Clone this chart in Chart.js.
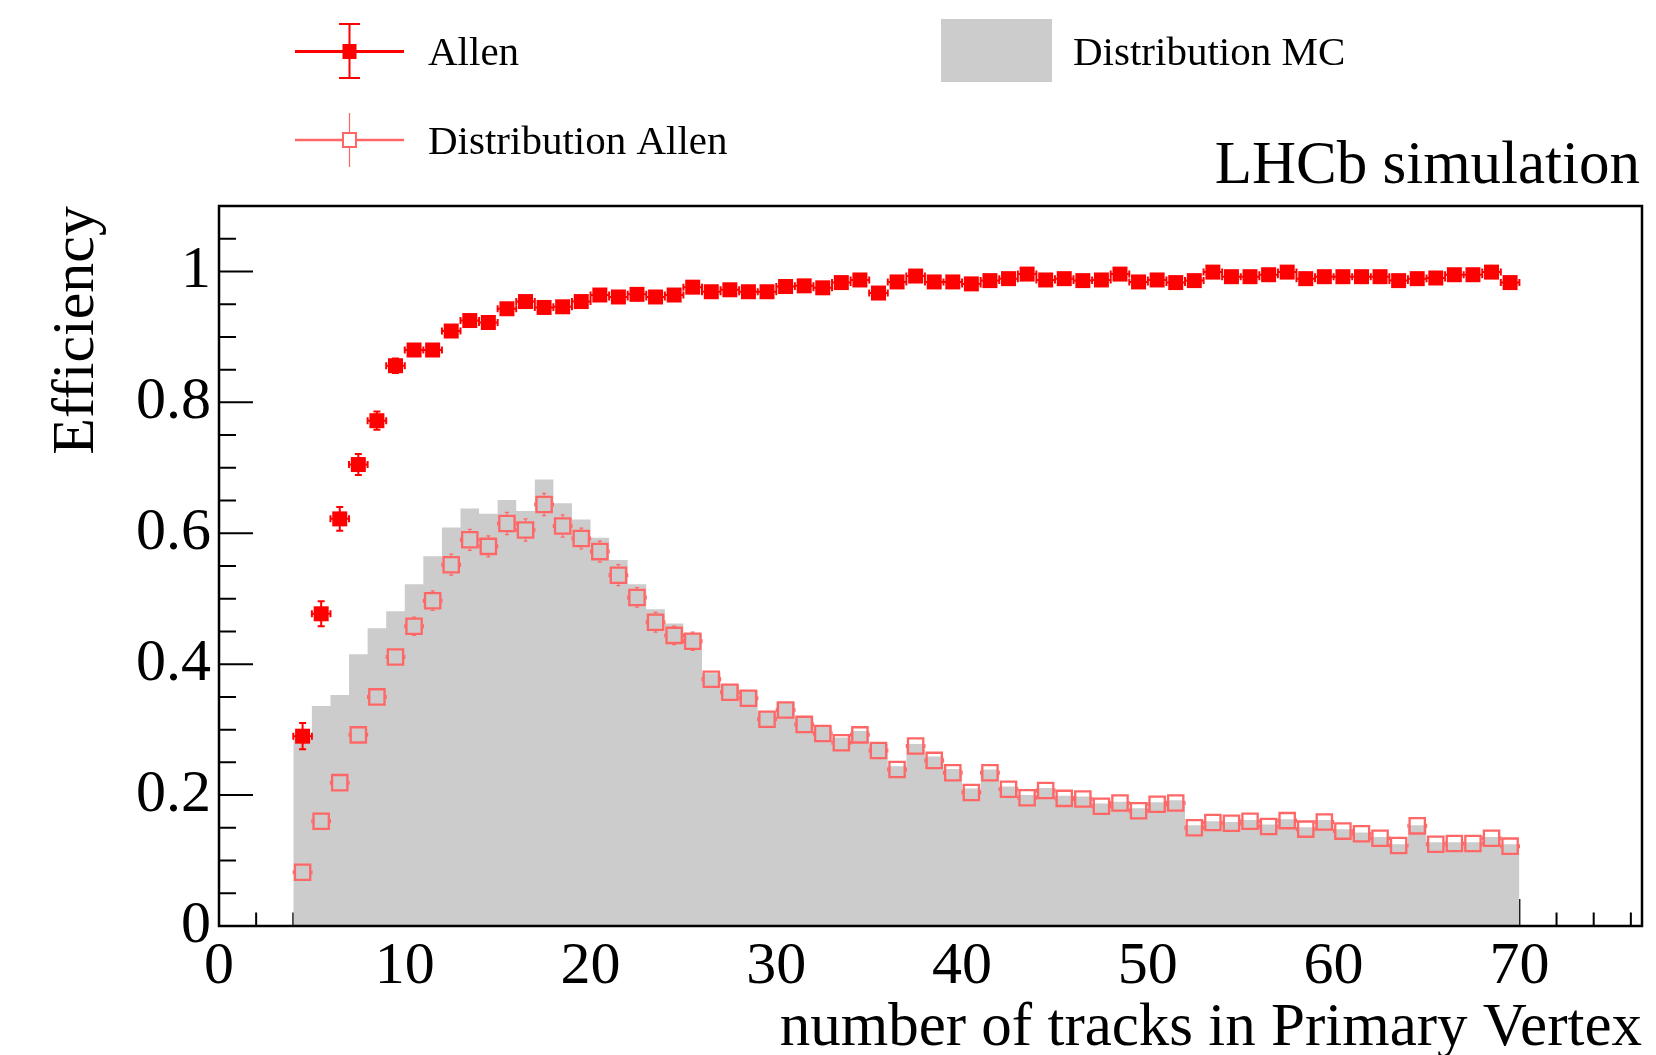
<!DOCTYPE html>
<html>
<head>
<meta charset="utf-8">
<title>Allen - efficiency vs number of tracks in PV</title>
<script src="https://cdn.jsdelivr.net/npm/chart.js@4.4.0/dist/chart.umd.min.js"></script>
<style>
  html, body { margin: 0; padding: 0; background: #fff; }
  #wrap { width: 1656px; height: 1055px; }
</style>
</head>
<body>
<div id="wrap"><canvas id="chartEficiencia" width="1656" height="1055"></canvas></div>
<script>
// left edge of each bin (bin width = 1 track)
const binLow = [4, 5, 6, 7, 8, 9, 10, 11, 12, 13, 14, 15, 16, 17, 18, 19, 20, 21, 22, 23,
  24, 25, 26, 27, 28, 29, 30, 31, 32, 33, 34, 35, 36, 37, 38, 39, 40, 41, 42, 43,
  44, 45, 46, 47, 48, 49, 50, 51, 52, 53, 54, 55, 56, 57, 58, 59, 60, 61, 62, 63,
  64, 65, 66, 67, 68, 69];

// Allen efficiency
const effAllen = [0.290, 0.477, 0.622, 0.705, 0.772, 0.856, 0.880, 0.880, 0.909, 0.925,
  0.922, 0.943, 0.954, 0.945, 0.946, 0.954, 0.964, 0.961, 0.965, 0.961,
  0.964, 0.976, 0.969, 0.972, 0.969, 0.969, 0.977, 0.978, 0.975, 0.983,
  0.987, 0.967, 0.984, 0.993, 0.984, 0.984, 0.981, 0.986, 0.989, 0.996,
  0.987, 0.989, 0.986, 0.987, 0.996, 0.984, 0.987, 0.983, 0.986, 0.999,
  0.992, 0.992, 0.995, 0.999, 0.989, 0.992, 0.992, 0.992, 0.992, 0.986,
  0.989, 0.990, 0.995, 0.995, 0.999, 0.983];
const effAllenErr = [0.020, 0.019, 0.018, 0.016, 0.014, 0.011, 0.009, 0.008, 0.007, 0.006,
  0.006, 0.005, 0.005, 0.005, 0.005, 0.005, 0.004, 0.004, 0.004, 0.004,
  0.004, 0.004, 0.004, 0.004, 0.004, 0.004, 0.004, 0.004, 0.004, 0.004,
  0.004, 0.004, 0.004, 0.004, 0.004, 0.004, 0.004, 0.004, 0.004, 0.004,
  0.004, 0.004, 0.004, 0.004, 0.004, 0.004, 0.004, 0.004, 0.004, 0.004,
  0.004, 0.004, 0.004, 0.004, 0.004, 0.004, 0.004, 0.004, 0.004, 0.004,
  0.004, 0.004, 0.004, 0.004, 0.004, 0.004];

// Distribution Allen (normalised)
const distAllen = [0.082, 0.160, 0.219, 0.292, 0.350, 0.411, 0.458, 0.497, 0.552, 0.590,
  0.580, 0.615, 0.605, 0.644, 0.611, 0.592, 0.572, 0.536, 0.502, 0.464,
  0.444, 0.435, 0.377, 0.357, 0.348, 0.316, 0.330, 0.308, 0.294, 0.280,
  0.292, 0.268, 0.239, 0.275, 0.253, 0.234, 0.204, 0.234, 0.209, 0.196,
  0.207, 0.195, 0.194, 0.183, 0.188, 0.176, 0.186, 0.188, 0.150, 0.158,
  0.157, 0.160, 0.152, 0.161, 0.148, 0.159, 0.145, 0.141, 0.134, 0.123,
  0.153, 0.125, 0.126, 0.126, 0.134, 0.122];
const distAllenErr = [0.006, 0.008, 0.010, 0.011, 0.012, 0.013, 0.014, 0.015, 0.016, 0.016,
  0.016, 0.017, 0.017, 0.017, 0.017, 0.016, 0.016, 0.016, 0.015, 0.015,
  0.014, 0.014, 0.013, 0.013, 0.013, 0.012, 0.012, 0.012, 0.012, 0.011,
  0.011, 0.011, 0.010, 0.011, 0.010, 0.010, 0.010, 0.010, 0.010, 0.010,
  0.010, 0.010, 0.010, 0.009, 0.009, 0.009, 0.009, 0.009, 0.009, 0.009,
  0.009, 0.009, 0.009, 0.009, 0.009, 0.009, 0.009, 0.009, 0.009, 0.008,
  0.009, 0.008, 0.008, 0.008, 0.008, 0.008];

// Distribution MC (grey histogram)
const distMC = [0.285, 0.336, 0.353, 0.415, 0.455, 0.481, 0.522, 0.565, 0.609, 0.638,
  0.630, 0.651, 0.634, 0.682, 0.646, 0.621, 0.593, 0.559, 0.522, 0.484,
  0.462, 0.447, 0.386, 0.369, 0.360, 0.328, 0.342, 0.320, 0.305, 0.288,
  0.298, 0.278, 0.244, 0.278, 0.259, 0.240, 0.210, 0.239, 0.213, 0.200,
  0.211, 0.199, 0.198, 0.187, 0.190, 0.180, 0.189, 0.192, 0.154, 0.160,
  0.159, 0.162, 0.155, 0.163, 0.151, 0.162, 0.148, 0.143, 0.136, 0.125,
  0.154, 0.128, 0.128, 0.128, 0.136, 0.125];

const FUENTE = '"Liberation Serif", "DejaVu Serif", serif';
const ROJO = "#ff0000";
const ROSA = "#ff6666";
const GRIS = "#cccccc";

// puntos en el centro de cada bin
const puntosEff = binLow.map((b, i) => ({ x: b + 0.5, y: effAllen[i] }));
const puntosDist = binLow.map((b, i) => ({ x: b + 0.5, y: distAllen[i] }));
// histograma escalonado: un punto por borde izquierdo + cierre en el borde derecho
const puntosMC = binLow.map((b, i) => ({ x: b, y: distMC[i] }));
puntosMC.push({ x: binLow[binLow.length - 1] + 1, y: distMC[distMC.length - 1] });

// Marcas de los ejes hacia dentro (estilo ROOT), debajo del histograma
const marcasRoot = {
  id: "marcasRoot",
  beforeDatasetsDraw(chart) {
    const { ctx, chartArea: a, scales: { x, y } } = chart;
    ctx.save();
    ctx.strokeStyle = "#000";
    ctx.lineWidth = 2;
    ctx.beginPath();
    x.ticks.forEach((t) => {
      const px = x.getPixelForValue(t.value);
      const largo = Math.round(t.value) % 10 === 0 ? 27 : 13.5;
      ctx.moveTo(px, a.bottom);
      ctx.lineTo(px, a.bottom - largo);
    });
    y.ticks.forEach((t) => {
      const py = y.getPixelForValue(t.value);
      const largo = Math.round(t.value * 100) % 20 === 0 ? 34 : 17;
      ctx.moveTo(a.left, py);
      ctx.lineTo(a.left + largo, py);
    });
    ctx.stroke();
    ctx.restore();
  },
  afterDatasetsDraw(chart) {
    const { ctx, chartArea: a } = chart;
    ctx.save();
    ctx.strokeStyle = "#000";
    ctx.lineWidth = 2.5;
    ctx.strokeRect(a.left, a.top, a.right - a.left, a.bottom - a.top);
    ctx.restore();
  },
};

// Barras de error (x: +-medio bin, y: errY) con topes; no entran en el marcador
const barrasError = {
  id: "barrasError",
  beforeDatasetDraw(chart, args) {
    const ds = chart.data.datasets[args.index];
    if (!ds.errY) return;
    const { ctx, scales: { x, y } } = chart;
    const tope = ds.errTope;
    const h = ds.errHueco;
    ctx.save();
    ctx.strokeStyle = ds.borderColor;
    ctx.lineWidth = ds.errAncho;
    ctx.beginPath();
    ds.data.forEach((p, i) => {
      const px = x.getPixelForValue(p.x);
      const py = y.getPixelForValue(p.y);
      const x0 = x.getPixelForValue(p.x - 0.5);
      const x1 = x.getPixelForValue(p.x + 0.5);
      const yb = y.getPixelForValue(p.y - ds.errY[i]);
      const ya = y.getPixelForValue(p.y + ds.errY[i]);
      ctx.moveTo(x0, py); ctx.lineTo(px - h, py);
      ctx.moveTo(px + h, py); ctx.lineTo(x1, py);
      ctx.moveTo(x0, py - tope); ctx.lineTo(x0, py + tope);
      ctx.moveTo(x1, py - tope); ctx.lineTo(x1, py + tope);
      if (ya < py - h) {
        ctx.moveTo(px, py - h); ctx.lineTo(px, ya);
        ctx.moveTo(px - tope, ya); ctx.lineTo(px + tope, ya);
      }
      if (yb > py + h) {
        ctx.moveTo(px, py + h); ctx.lineTo(px, yb);
        ctx.moveTo(px - tope, yb); ctx.lineTo(px + tope, yb);
      }
    });
    ctx.stroke();
    ctx.restore();
  },
};

// Leyenda dibujada a mano, como en el TLegend original
const leyenda = {
  id: "leyenda",
  afterDraw(chart) {
    const ctx = chart.ctx;
    const [dsEff, dsDist, dsMC] = chart.data.datasets;
    ctx.save();

    // Allen
    ctx.strokeStyle = dsEff.borderColor;
    ctx.lineWidth = 3;
    ctx.beginPath();
    ctx.moveTo(295, 51.5); ctx.lineTo(404, 51.5);
    ctx.stroke();
    ctx.lineWidth = 2;
    ctx.beginPath();
    ctx.moveTo(349.5, 24); ctx.lineTo(349.5, 78);
    ctx.moveTo(339, 24); ctx.lineTo(360, 24);
    ctx.moveTo(339, 78); ctx.lineTo(360, 78);
    ctx.stroke();
    ctx.fillStyle = dsEff.backgroundColor;
    ctx.fillRect(342.5, 44, 14, 15);

    // Distribution Allen
    ctx.strokeStyle = dsDist.borderColor;
    ctx.lineWidth = 2.5;
    ctx.beginPath();
    ctx.moveTo(295, 140); ctx.lineTo(404, 140);
    ctx.stroke();
    ctx.lineWidth = 1.2;
    ctx.beginPath();
    ctx.moveTo(349.5, 113); ctx.lineTo(349.5, 167);
    ctx.stroke();
    ctx.fillStyle = "#fff";
    ctx.fillRect(343, 133, 13, 14);
    ctx.lineWidth = 2;
    ctx.strokeRect(343, 133, 13, 14);

    // Distribution MC
    ctx.fillStyle = dsMC.backgroundColor;
    ctx.fillRect(941, 19, 111, 63);

    ctx.fillStyle = "#000";
    ctx.font = "41px " + FUENTE;
    ctx.textBaseline = "alphabetic";
    ctx.textAlign = "left";
    ctx.fillText(dsEff.label, 428, 65);
    ctx.fillText(dsDist.label, 428, 154);
    ctx.fillText(dsMC.label, 1073, 65);

    ctx.font = "61px " + FUENTE;
    ctx.textAlign = "right";
    ctx.fillText("LHCb simulation", 1640, 183);
    ctx.restore();
  },
};

new Chart(document.getElementById("chartEficiencia"), {
  type: "scatter",
  data: {
    datasets: [
      {
        label: "Allen",
        data: puntosEff,
        order: 0,
        pointStyle: "rect",
        pointRadius: 10.6,
        pointHoverRadius: 10.6,
        backgroundColor: ROJO,
        borderColor: ROJO,
        borderWidth: 0,
        errY: effAllenErr,
        errAncho: 2,
        errTope: 3.5,
        errHueco: 0,
      },
      {
        label: "Distribution Allen",
        data: puntosDist,
        order: 1,
        pointStyle: "rect",
        pointRadius: 10.8,
        pointHoverRadius: 10.8,
        backgroundColor: "rgba(0,0,0,0)",
        borderColor: ROSA,
        borderWidth: 2.3,
        errY: distAllenErr,
        errAncho: 1.2,
        errTope: 2,
        errHueco: 8.6,
      },
      {
        type: "line",
        label: "Distribution MC",
        data: puntosMC,
        order: 2,
        stepped: "before",
        fill: "origin",
        backgroundColor: GRIS,
        borderColor: "rgba(0,0,0,0)",
        borderWidth: 0,
        pointRadius: 0,
        pointHoverRadius: 0,
      },
    ],
  },
  options: {
    responsive: false,
    devicePixelRatio: 1,
    animation: false,
    layout: { padding: { left: 0, right: 14, top: 206, bottom: 0 } },
    plugins: {
      legend: { display: false },
      tooltip: { enabled: false },
    },
    scales: {
      x: {
        type: "linear",
        min: 0,
        max: 76.6,
        afterFit: (s) => { s.height = 129; },
        grid: { display: false, drawTicks: false },
        border: { display: false },
        ticks: {
          stepSize: 2,
          autoSkip: false,
          includeBounds: false,
          maxRotation: 0,
          padding: 5,
          color: "#000",
          font: { family: FUENTE, size: 60 },
          callback: (v) => (Math.round(v) % 10 === 0 ? String(Math.round(v)) : ""),
        },
        title: {
          display: true,
          text: "number of tracks in Primary Vertex",
          align: "end",
          color: "#000",
          font: { family: FUENTE, size: 61, lineHeight: 0.85 },
          padding: 0,
        },
      },
      y: {
        type: "linear",
        min: 0,
        max: 1.1,
        afterFit: (s) => { s.width = 219; },
        grid: { display: false, drawTicks: false },
        border: { display: false },
        ticks: {
          stepSize: 0.05,
          autoSkip: false,
          includeBounds: false,
          padding: 8,
          color: "#000",
          font: { family: FUENTE, size: 60 },
          callback: (v) => {
            const k = Math.round(v * 100);
            if (k % 20 !== 0) return "";
            if (k === 0) return "0";
            if (k === 100) return "1";
            return (k / 100).toFixed(1);
          },
        },
        title: {
          display: true,
          text: "Efficiency",
          align: "end",
          color: "#000",
          font: { family: FUENTE, size: 60, lineHeight: 1 },
          padding: { top: 47, bottom: 0 },
        },
      },
    },
  },
  plugins: [marcasRoot, barrasError, leyenda],
});
</script>
</body>
</html>
